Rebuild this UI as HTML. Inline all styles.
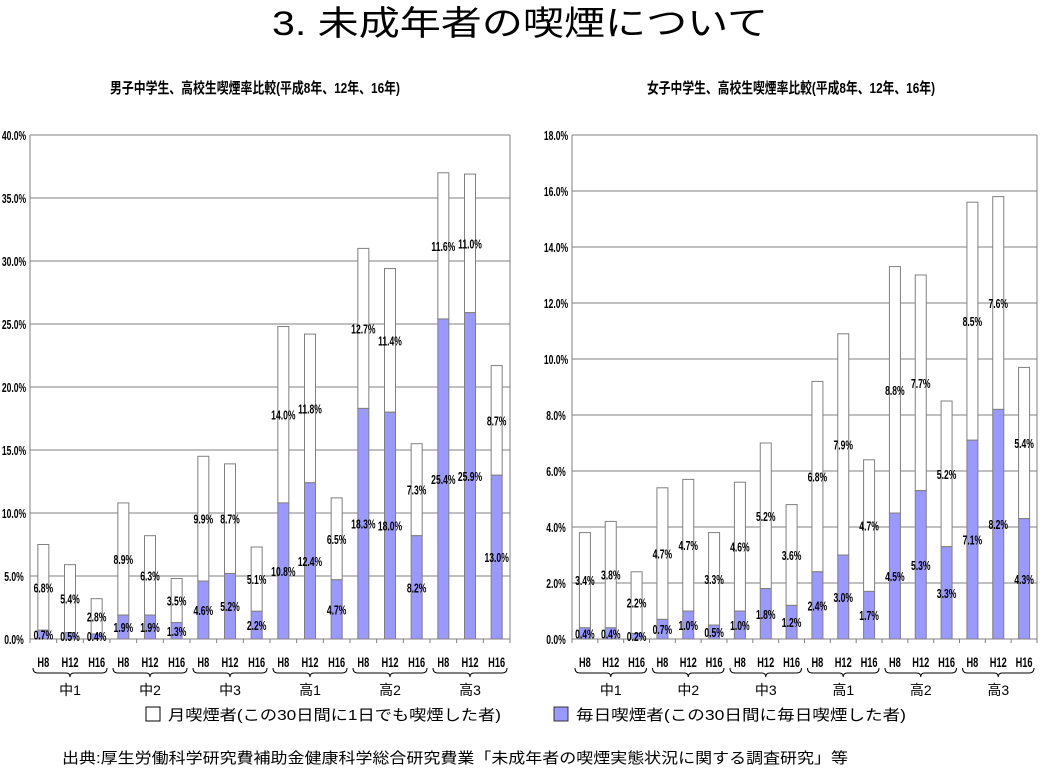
<!DOCTYPE html>
<html><head><meta charset="utf-8"><style>
html,body{margin:0;padding:0;background:#fff;}
svg{display:block;font-family:"Liberation Sans","Noto Sans CJK JP",sans-serif;}
</style></head><body>
<svg id="s" width="1040" height="772" viewBox="0 0 1040 772">
<text x="520" y="35" text-anchor="middle" font-size="34" textLength="496" lengthAdjust="spacingAndGlyphs">3. 未成年者の喫煙について</text>
<text x="255" y="93" text-anchor="middle" font-size="15" font-weight="bold" textLength="290" lengthAdjust="spacingAndGlyphs">男子中学生、高校生喫煙率比較(平成8年、12年、16年)</text>
<text x="791" y="93" text-anchor="middle" font-size="15" font-weight="bold" textLength="288" lengthAdjust="spacingAndGlyphs">女子中学生、高校生喫煙率比較(平成8年、12年、16年)</text>
<g id="male"></g>
<g id="female"></g>
<rect x="146" y="707" width="14" height="14" fill="#fff" stroke="#000" stroke-width="1"/>
<text x="168" y="720" font-size="15" textLength="333" lengthAdjust="spacingAndGlyphs">月喫煙者(この30日間に1日でも喫煙した者)</text>
<rect x="554" y="707" width="14" height="14" fill="#9999ff" stroke="#333" stroke-width="1"/>
<text x="576" y="720" font-size="15" textLength="330" lengthAdjust="spacingAndGlyphs">毎日喫煙者(この30日間に毎日喫煙した者)</text>
<text x="62" y="763" font-size="15" textLength="786" lengthAdjust="spacingAndGlyphs">出典:厚生労働科学研究費補助金健康科学総合研究費業「未成年者の喫煙実態状況に関する調査研究」等</text>
</svg>
<script>
const categories = ["H8","H12","H16","H8","H12","H16","H8","H12","H16","H8","H12","H16","H8","H12","H16","H8","H12","H16"];
const groups = ["中1","中2","中3","高1","高2","高3"];
const maleDaily = [0.7,0.5,0.4,1.9,1.9,1.3,4.6,5.2,2.2,10.8,12.4,4.7,18.3,18.0,8.2,25.4,25.9,13.0];
const maleMonthly = [6.8,5.4,2.8,8.9,6.3,3.5,9.9,8.7,5.1,14.0,11.8,6.5,12.7,11.4,7.3,11.6,11.0,8.7];
const femaleDaily = [0.4,0.4,0.2,0.7,1.0,0.5,1.0,1.8,1.2,2.4,3.0,1.7,4.5,5.3,3.3,7.1,8.2,4.3];
const femaleMonthly = [3.4,3.8,2.2,4.7,4.7,3.3,4.6,5.2,3.6,6.8,7.9,4.7,8.8,7.7,5.2,8.5,7.6,5.4];
const maleTicks = [0,5,10,15,20,25,30,35,40];
const femaleTicks = [0,2,4,6,8,10,12,14,16,18];

const NS = "http://www.w3.org/2000/svg";
function mk(parent, tag, attrs){
  const e = document.createElementNS(NS, tag);
  for (const k in attrs) e.setAttribute(k, attrs[k]);
  parent.appendChild(e);
  return e;
}
function label(parent, x, y, txt, size){
  const t = mk(parent, "text", {x:x, y:y, "text-anchor":"middle", "font-size":size, "font-weight":"bold"});
  t.setAttribute("transform", "translate(" + x + " 0) scale(0.66 1) translate(" + (-x) + " 0)");
  t.textContent = txt;
  return t;
}
function chart(gid, x0, x1, maxV, ticks, daily, monthly){
  const g = document.getElementById(gid);
  const yTop = 135, yBot = 639;
  const y = v => yBot - (v / maxV) * (yBot - yTop);
  const slot = (x1 - x0) / categories.length;
  const xc = i => x0 + slot * (i + 0.5);
  const bw = 11;
  ticks.forEach(t => {
    const gl = mk(g, "line", {x1:x0, x2:x1, y1:y(t), y2:y(t), stroke:"#808080", "stroke-width":1});
    
    
    const tl = label(g, x0 - 16, y(t) + 5, t.toFixed(1) + "%", 13);
    
    
  });
  mk(g, "line", {x1:x0, x2:x0, y1:yTop, y2:yBot, stroke:"#808080"});
  mk(g, "line", {x1:x1, x2:x1, y1:yTop, y2:yBot, stroke:"#808080"});
  for (let i = 0; i <= categories.length; i++){
    mk(g, "line", {x1:x0 + slot*i, x2:x0 + slot*i, y1:yBot, y2:yBot + 4, stroke:"#808080"});
  }
  categories.forEach((c, i) => {
    const d = daily[i], m = monthly[i];
    const mb = mk(g, "rect", {x:xc(i) - bw/2, y:y(d + m), width:bw, height:y(d) - y(d + m), fill:"#fff", stroke:"#808080", "stroke-width":1});
    
    
    const db = mk(g, "rect", {x:xc(i) - bw/2, y:y(d), width:bw, height:yBot - y(d), fill:"#9999ff", stroke:"#808080", "stroke-width":1});
    
    
    const ml = label(g, xc(i), (y(d + m) + y(d)) / 2 + 5, m.toFixed(1) + "%", 13);
    
    
    const dl = label(g, xc(i), Math.min((y(d) + yBot) / 2 + 5, yBot + 2), d.toFixed(1) + "%", 13);
    
    
    const cl = label(g, xc(i), 667, c, 14);
    
    
  });
  groups.forEach((gr, k) => {
    const a = x0 + slot * 3 * k + 3, b = x0 + slot * 3 * (k + 1) - 3, m = (a + b) / 2;
    const br = mk(g, "path", {d:"M" + a + " 668 q0 5 5 5 H" + (m - 4) + " q4 0 4 4 q0 -4 4 -4 H" + (b - 5) + " q5 0 5 -5", fill:"none", stroke:"#000", "stroke-width":1});
    
    
    const t = mk(g, "text", {x:m, y:695, "text-anchor":"middle", "font-size":14});
    t.textContent = gr;
    
    
  });
}
chart("male", 30, 510, 40, maleTicks, maleDaily, maleMonthly);
chart("female", 572, 1037, 18, femaleTicks, femaleDaily, femaleMonthly);
</script>
</body></html>
